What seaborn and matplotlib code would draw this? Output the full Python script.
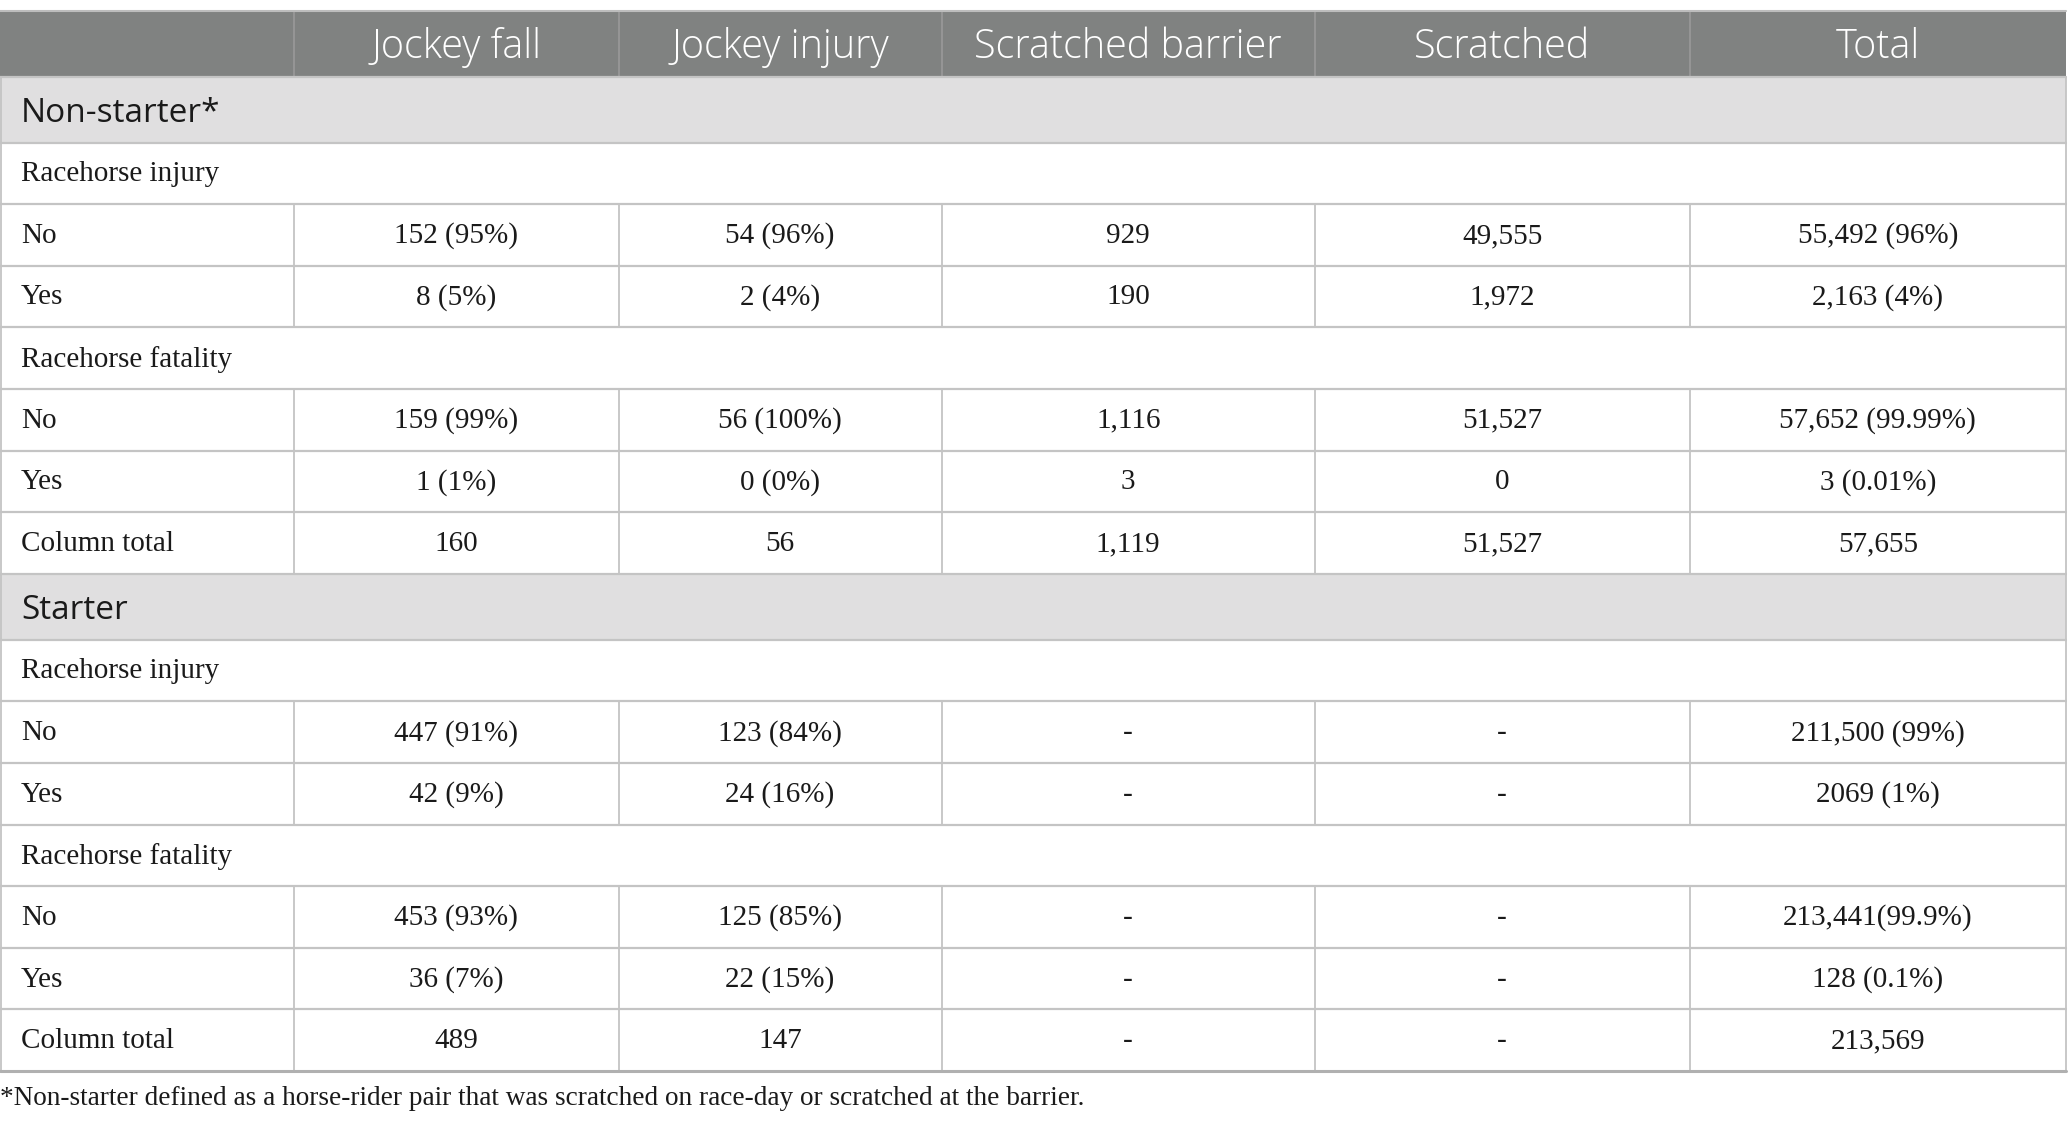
import numpy as np
import matplotlib.pyplot as plt
import seaborn as sns

# ---- table content ----
columns = ["Jockey fall", "Jockey injury", "Scratched barrier", "Scratched", "Total"]

sections = ["Non-starter*", "Starter"]

ns_injury_no = ["152 (95%)", "54 (96%)", "929", "49,555", "55,492 (96%)"]
ns_injury_yes = ["8 (5%)", "2 (4%)", "190", "1,972", "2,163 (4%)"]
ns_fatal_no = ["159 (99%)", "56 (100%)", "1,116", "51,527", "57,652 (99.99%)"]
ns_fatal_yes = ["1 (1%)", "0 (0%)", "3", "0", "3 (0.01%)"]
ns_total = ["160", "56", "1,119", "51,527", "57,655"]

st_injury_no = ["447 (91%)", "123 (84%)", "-", "-", "211,500 (99%)"]
st_injury_yes = ["42 (9%)", "24 (16%)", "-", "-", "2069 (1%)"]
st_fatal_no = ["453 (93%)", "125 (85%)", "-", "-", "213,441(99.9%)"]
st_fatal_yes = ["36 (7%)", "22 (15%)", "-", "-", "128 (0.1%)"]
st_total = ["489", "147", "-", "-", "213,569"]

footnote = "*Non-starter defined as a horse-rider pair that was scratched on race-day or scratched at the barrier."

rows = [
    ("section", sections[0], None),
    ("sub", "Racehorse injury", None),
    ("data", "No", ns_injury_no),
    ("data", "Yes", ns_injury_yes),
    ("sub", "Racehorse fatality", None),
    ("data", "No", ns_fatal_no),
    ("data", "Yes", ns_fatal_yes),
    ("data", "Column total", ns_total),
    ("section", sections[1], None),
    ("sub", "Racehorse injury", None),
    ("data", "No", st_injury_no),
    ("data", "Yes", st_injury_yes),
    ("sub", "Racehorse fatality", None),
    ("data", "No", st_fatal_no),
    ("data", "Yes", st_fatal_yes),
    ("data", "Column total", st_total),
]

# ---- layout (pixels) ----
W, H = 2068, 1125
col_edges = [0, 294, 618.5, 941.5, 1315, 1689.5, 2066]
top = 10.5
header_h = 66
section_h = 66
row_h = 61.6

header_col = "#808281"
section_col = "#e0dfe0"
line_col = "#c4c4c4"

sns.set_theme(style="white")
plt.rcParams["font.family"] = ["Open Sans", "DejaVu Sans"]

fig = plt.figure(figsize=(W / 100, H / 100), dpi=100)
ax = fig.add_axes([0, 0, 1, 1])
ax.set_xlim(0, W)
ax.set_ylim(H, 0)
ax.axis("off")

serif = ["Liberation Serif", "DejaVu Serif"]
sans = ["Open Sans", "DejaVu Sans"]
body_size = 21

# header
y0 = top
ax.add_patch(plt.Rectangle((col_edges[0], y0), col_edges[-1] - col_edges[0], header_h,
                           facecolor=header_col, edgecolor="none"))
for x in col_edges[1:-1]:
    ax.plot([x, x], [y0, y0 + header_h], color="#9a9a9a", lw=1.2)
for i, name in enumerate(columns):
    cx = (col_edges[i + 1] + col_edges[i + 2]) / 2
    ax.text(cx, y0 + header_h / 2 + 4, name, ha="center", va="center",
            color="white", fontsize=28.5, family=sans, fontweight="light")
ax.plot([col_edges[0], col_edges[-1]], [y0, y0], color="#bdbdbd", lw=1.5)
y = y0 + header_h

for kind, label, vals in rows:
    h = section_h if kind == "section" else row_h
    if kind == "section":
        ax.add_patch(plt.Rectangle((col_edges[0], y), col_edges[-1] - col_edges[0], h,
                                   facecolor=section_col, edgecolor="none"))
        ax.text(21, y + h / 2 + 4, label, ha="left", va="center",
                color="#1a1a1a", fontsize=24, family=sans)
    else:
        ax.text(21, y + h / 2 + 1, label, ha="left", va="center",
                color="#1a1a1a", fontsize=body_size, family=serif)
    if kind == "data":
        for x in col_edges[1:-1]:
            ax.plot([x, x], [y, y + h], color=line_col, lw=1.3)
        for i, v in enumerate(vals):
            cx = (col_edges[i + 1] + col_edges[i + 2]) / 2
            ax.text(cx, y + h / 2 + 1, v, ha="center", va="center",
                    color="#1a1a1a", fontsize=body_size, family=serif)
    # outer borders
    ax.plot([col_edges[0] + 1, col_edges[0] + 1], [y, y + h], color=line_col, lw=1.3)
    ax.plot([col_edges[-1], col_edges[-1]], [y, y + h], color=line_col, lw=1.3)
    ax.plot([col_edges[0], col_edges[-1]], [y, y], color=line_col, lw=1.6)
    y += h

ax.plot([col_edges[0], col_edges[-1]], [y, y], color="#b0b0b0", lw=2.2)

ax.text(0, y + 28, footnote, ha="left", va="center", color="#1a1a1a",
        fontsize=19.6, family=serif)

fig.savefig("out.png", dpi=100)
